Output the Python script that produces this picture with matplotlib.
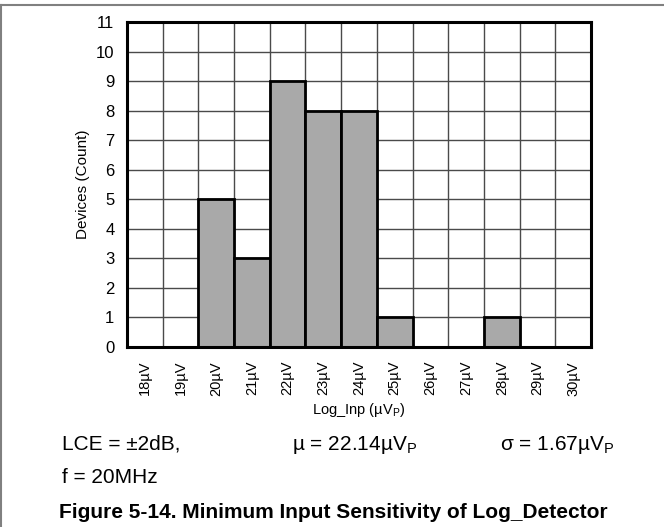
import matplotlib
matplotlib.use("Agg")
import matplotlib.pyplot as plt
from matplotlib.lines import Line2D

plt.rcParams['font.family'] = ['Liberation Sans', 'DejaVu Sans']

# Histogram of minimum input sensitivity (one bin per microvolt)
bins_uv = [18, 19, 20, 21, 22, 23, 24, 25, 26, 27, 28, 29, 30]
counts = [0, 0, 5, 3, 9, 8, 8, 1, 0, 0, 1, 0, 0]
bin_labels = [f"{v}µV" for v in bins_uv]
y_ticks = list(range(0, 12))

fig = plt.figure(figsize=(6.64, 5.27), dpi=100)
ax = fig.add_axes([127 / 664, 1 - 347 / 527, 464 / 664, 325 / 527])

# Bars sit on top of the grid
ax.bar(range(len(bins_uv)), counts, width=1.0, color='#a9a9a9',
       edgecolor='black', linewidth=2.0, zorder=3)

ax.set_xlim(-0.5, len(bins_uv) - 0.5)
ax.set_ylim(0, 11)

# Grid: one cell per bin and per count
for i in range(len(bins_uv) + 1):
    ax.axvline(i - 0.5, color='#4a4a4a', lw=1.0, zorder=1)
for y in y_ticks:
    ax.axhline(y, color='#4a4a4a', lw=1.0, zorder=1)

ax.set_xticks(range(len(bins_uv)))
ax.set_xticklabels(bin_labels, rotation=90, fontsize=10.5)
ax.set_yticks(y_ticks)
ax.set_yticklabels([str(v) for v in y_ticks], fontsize=12)
ax.tick_params(axis='both', length=0)
ax.tick_params(axis='y', pad=9)
ax.tick_params(axis='x', pad=10)

for s in ax.spines.values():
    s.set_linewidth(2.2)
    s.set_color('black')
    s.set_zorder(4)

ax.set_ylabel('Devices (Count)', fontsize=11, labelpad=4)
ax.set_xlabel(r'Log_Inp (µV$_\mathregular{P}$)', fontsize=10.5, labelpad=4)

# Test conditions and statistics
fig.text(62 / 664, 1 - 450 / 527, 'LCE = ±2dB,', fontsize=15, va='baseline')
fig.text(62 / 664, 1 - 483 / 527, 'f = 20MHz', fontsize=15, va='baseline')
fig.text(292 / 664, 1 - 450 / 527, r'µ = 22.14µV$_\mathregular{P}$', fontsize=15, va='baseline')
fig.text(500 / 664, 1 - 450 / 527, r'σ = 1.67µV$_\mathregular{P}$', fontsize=15, va='baseline')

fig.text(333 / 664, 1 - 518 / 527, 'Figure 5-14. Minimum Input Sensitivity of Log_Detector',
         fontsize=15, fontweight='bold', ha='center', va='baseline')

# Page frame lines along the top and left edges
fig.add_artist(Line2D([0, 1], [1 - 4.5 / 527, 1 - 4.5 / 527], transform=fig.transFigure,
                      color='#808080', lw=1.5))
fig.add_artist(Line2D([0.8 / 664, 0.8 / 664], [0, 1 - 4.5 / 527], transform=fig.transFigure,
                      color='#808080', lw=1.5))

fig.savefig('out.png', dpi=100)
